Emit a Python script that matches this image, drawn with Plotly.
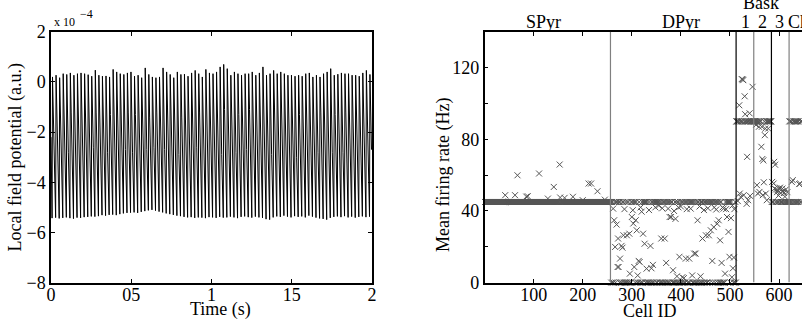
import plotly.graph_objects as go

W, H = 802, 324
FONT = "Liberation Serif, Times New Roman, Times, serif"

# ---------------- Local field potential (x 1e-4 a.u.) ----------------
lfp_cycles = 90            # gamma cycles in the 2 s window
lfp_duration = 2.0         # s
lfp_start = -2.2
lfp_peaks = [
    0.20, 0.27, 0.17, 0.33, 0.30, 0.36, 0.27, 0.33, 0.36, 0.33,
    0.29, 0.23, 0.47, 0.27, 0.23, 0.24, 0.20, 0.50, 0.40, 0.33,
    0.30, 0.36, 0.40, 0.23, 0.27, 0.17, 0.56, 0.30, 0.20, 0.17,
    0.20, 0.56, 0.40, 0.30, 0.17, 0.40, 0.30, 0.31, 0.23, 0.36,
    0.46, 0.33, 0.20, 0.50, 0.36, 0.33, 0.40, 0.60, 0.70, 0.53,
    0.27, 0.40, 0.33, 0.27, 0.33, 0.33, 0.40, 0.27, 0.36, 0.60,
    0.27, 0.33, 0.46, 0.33, 0.40, 0.33, 0.27, 0.27, 0.23, 0.27,
    0.23, 0.33, 0.36, 0.20, 0.27, 0.20, 0.33, 0.40, 0.53, 0.27,
    0.31, 0.36, 0.33, 0.33, 0.27, 0.27, 0.23, 0.36, 0.46, 0.30,
]
lfp_troughs = [
    -5.43, -5.41, -5.44, -5.42, -5.40, -5.43, -5.45, -5.41, -5.42, -5.39,
    -5.38, -5.36, -5.37, -5.35, -5.31, -5.33, -5.30, -5.29, -5.31, -5.27,
    -5.24, -5.22, -5.21, -5.20, -5.22, -5.18, -5.15, -5.12, -5.10, -5.13,
    -5.17, -5.20, -5.24, -5.27, -5.30, -5.33, -5.35, -5.38, -5.40, -5.39,
    -5.42, -5.40, -5.41, -5.43, -5.39, -5.40, -5.42, -5.38, -5.41, -5.40,
    -5.37, -5.40, -5.43, -5.38, -5.36, -5.39, -5.41, -5.37, -5.40, -5.42,
    -5.47, -5.49, -5.40, -5.36, -5.38, -5.33, -5.37, -5.40, -5.35, -5.38,
    -5.36, -5.40, -5.33, -5.37, -5.41, -5.44, -5.46, -5.49, -5.42, -5.38,
    -5.36, -5.39, -5.35, -5.40, -5.37, -5.41, -5.38, -5.36, -5.39, -5.37,
]
lfp_shoulders = [
    -1.3, -1.6, -1.1, -1.4, -1.9, -1.2, -1.5, -1.0, -1.7, -1.3,
    -1.4, -2.0, -1.2, -1.6, -1.1, -1.8, -1.3, -1.5, -1.0, -1.4,
    -1.7, -1.2, -2.1, -1.3, -1.5, -1.1, -1.6, -1.4, -1.9, -1.2,
    -1.3, -1.7, -1.0, -1.5, -1.3, -2.2, -1.4, -1.1, -1.6, -1.3,
    -1.8, -1.2, -1.5, -1.0, -1.4, -1.6, -1.3, -1.9, -1.1, -1.5,
    -1.2, -1.7, -1.3, -1.4, -2.0, -1.1, -1.5, -1.3, -1.6, -1.2,
    -1.4, -1.8, -1.0, -1.5, -1.3, -1.7, -1.2, -1.4, -2.1, -1.3,
    -1.6, -1.1, -1.5, -1.3, -1.8, -1.2, -1.4, -1.0, -1.6, -1.3,
    -1.5, -1.9, -1.2, -1.4, -1.1, -1.7, -1.3, -1.5, -1.2, -1.4,
]
lfp_dips = [
    -2.9, -2.6, -3.0, -2.7, -2.8, -3.1, -2.6, -2.9, -2.7, -3.0,
    -2.8, -2.6, -3.0, -2.7, -2.9, -2.8, -3.1, -2.6, -2.8, -2.9,
    -2.7, -3.0, -2.8, -2.6, -2.9, -3.0, -2.7, -2.8, -2.6, -3.0,
    -2.9, -2.7, -2.8, -3.1, -2.6, -2.9, -2.8, -3.0, -2.7, -2.8,
    -2.6, -3.0, -2.9, -2.7, -2.8, -3.1, -2.6, -2.9, -2.8, -2.7,
    -3.0, -2.8, -2.6, -2.9, -2.7, -3.0, -2.8, -2.9, -2.6, -3.1,
    -2.7, -2.9, -2.8, -3.0, -2.6, -2.8, -2.9, -2.7, -3.0, -2.8,
    -2.6, -2.9, -3.1, -2.7, -2.8, -3.0, -2.6, -2.9, -2.8, -2.7,
    -3.0, -2.8, -2.9, -2.6, -3.0, -2.7, -2.8, -3.1, -2.9, -2.7,
]

# ---------------- Mean firing rates per cell ----------------
spyr_ids = list(range(1, 257))
spyr_base_rate = 45.0
spyr_outlier_ids = [42, 62, 67, 85, 88, 111, 129, 141, 153, 154, 163, 180, 200, 212, 217, 230, 245]
spyr_outlier_rates = [48.8, 48.8, 59.9, 48.0, 48.2, 60.9, 46.9, 53.4, 65.9, 47.5, 47.3, 47.9, 46.0, 55.3, 55.3, 51.0, 46.3]

dpyr_ids = list(range(257, 513))
dpyr_band_rates = {"H": 45.0, "L": 0.0}
dpyr_band_code = "".join([
    "HLHHLHLL HHLHLHHL LHLHHLHL LHHLHLHL",
    "LHHLHLHH LLHLHHLH LHLLHHLH LHHLLHLH",
    "HLLHHLHL HHLHLLHH LHLHHLLH LHHLHLHL",
    "HHLHLLHH LHLHHLLH LHHLHLLH HLHLHHLL",
    "LHLHHLHL LHHLHLHH LHLLHHLH LHHLHLLH",
    "HLHLHHLL HLHHLHLH LLHHLHLH HLHLLHHL",
    "HHLLHLHH LHLHLHHL LHLHHLHL HLLHHLHL",
    "LHHLHLHL LHHLHLHH LHLHLLHH LHLHHLHL",
]).replace(" ", "")
dpyr_scatter_ids = [
    262, 264, 266, 269, 271, 272, 273, 276, 279, 281, 283, 285, 290, 295, 296,
    300, 302, 303, 305, 308, 310, 312, 314, 316, 318, 320, 323, 326, 330, 335,
    338, 340, 343, 348, 355, 360, 362, 367, 370, 374, 377, 380, 384, 386, 389,
    392, 395, 397, 400, 403, 406, 410, 412, 417, 420, 423, 427, 430, 434, 438,
    440, 444, 447, 451, 455, 457, 461, 464, 467, 468, 472, 474, 477, 480, 483,
    485, 487, 490, 492, 494, 497, 499, 502, 504, 505, 506, 508, 509,
]
dpyr_scatter_rates = [
    41.3, 34.8, 19.9, 32.4, 8.7, 24.6, 8.7, 13.4, 20.5, 19.5, 26.4, 41.0, 26.4, 27.3, 5.0,
    36.6, 40.4, 33.0, 8.7, 34.8, 29.2, 4.0, 12.1, 11.5, 42.0, 39.6, 27.3, 21.7, 7.8, 40.5,
    20.5, 8.0, 9.9, 42.0, 43.0, 24.6, 41.5, 24.6, 11.0, 41.3, 36.6, 36.6, 6.9, 40.0, 35.6,
    3.5, 42.0, 14.4, 42.5, 3.0, 2.5, 13.4, 41.0, 13.4, 41.3, 4.0, 16.2, 16.2, 34.8, 42.5,
    3.5, 24.6, 40.5, 26.4, 41.5, 26.4, 29.2, 12.1, 31.0, 42.0, 40.8, 32.8, 34.8, 23.6, 11.0,
    42.0, 41.3, 5.0, 41.0, 36.6, 28.3, 14.4, 36.0, 3.0, 43.0, 8.0, 14.0, 41.0,
]

bask1_ids = list(range(513, 549))
bask1_rates = [
    90, 90, 90, 45.5, 90, 90, 99.0, 49.7, 90, 47.8, 90, 113.6,
    90, 113.4, 113.0, 48.8, 90, 104.0, 94.0, 90, 90, 44.0, 70.2, 90,
    46.0, 90, 90, 94.5, 48.4, 90, 90, 90, 90, 109.3, 90, 90,
]
bask2_ids = list(range(549, 585))
bask2_rates = [
    90, 90, 90, 90, 88.0, 90, 54.4, 90, 49.7, 90, 87.0, 50.6,
    90, 90, 90, 75.8, 87.0, 69.0, 48.8, 68.2, 56.0, 90, 82.3, 86.0,
    49.7, 90, 46.0, 90, 90, 86.0, 90, 90, 90, 90, 90, 90,
]
bask3_ids = list(range(585, 621))
bask3_rates = [
    45, 56.2, 45, 45, 55.3, 67.4, 52.5, 65.8, 45, 52.0, 45, 50.5,
    51.6, 45, 48.6, 52.5, 45, 53.0, 50.0, 45, 52.0, 45, 52.5, 51.0,
    45, 50.0, 45, 48.0, 45, 52.0, 45, 45, 50.5, 45, 45, 45,
]
ch_ids = list(range(621, 657))
ch_rates = [
    90, 45, 90, 45, 90, 56.2, 45, 57.2, 90, 45, 90, 45,
    90, 90, 45, 90, 45, 90, 45, 90, 55.0, 45, 55.3, 90,
    45, 90, 45, 90, 45, 90, 45, 90, 45, 90, 45, 90,
]

group_edges = [256.5, 512.5, 548.5, 584.5, 620.5]
group_edge_colors = ["rgb(128,128,128)", "black", "rgb(128,128,128)", "black", "rgb(128,128,128)"]

# ---------------- assemble series ----------------
T = lfp_duration / lfp_cycles
lfp_t = [0.0]
lfp_v = [lfp_start]
for k in range(lfp_cycles):
    lfp_t += [(k + 0.30) * T, (k + 0.42) * T, (k + 0.66) * T, (k + 0.86) * T]
    lfp_v += [lfp_troughs[k], lfp_peaks[k], lfp_shoulders[k], lfp_dips[k]]

spyr_rates = [spyr_base_rate] * len(spyr_ids)
for cid, r in zip(spyr_outlier_ids, spyr_outlier_rates):
    spyr_rates[cid - spyr_ids[0]] = r

dpyr_rates = [dpyr_band_rates[c] for c in dpyr_band_code]
for cid, r in zip(dpyr_scatter_ids, dpyr_scatter_rates):
    dpyr_rates[cid - dpyr_ids[0]] = r

cell_ids = spyr_ids + dpyr_ids + bask1_ids + bask2_ids + bask3_ids + ch_ids
cell_rates = spyr_rates + dpyr_rates + bask1_rates + bask2_rates + bask3_rates + ch_rates

# ---------------- figure ----------------
def px(x):
    return x / W


def py(y):
    return 1 - y / H


fig = go.Figure()

fig.add_trace(go.Scatter(
    x=lfp_t, y=lfp_v, mode="lines",
    line=dict(color="black", width=1),
    xaxis="x", yaxis="y", showlegend=False, hoverinfo="skip",
))

fig.add_trace(go.Scatter(
    x=cell_ids, y=cell_rates, mode="markers",
    marker=dict(symbol="x-thin", size=6, color="rgb(85,85,85)",
                line=dict(color="rgb(85,85,85)", width=1)),
    xaxis="x2", yaxis="y2", showlegend=False, cliponaxis=False, hoverinfo="skip",
))

for xe, col in zip(group_edges, group_edge_colors):
    fig.add_shape(type="line", xref="x2", yref="y2", x0=xe, x1=xe, y0=0, y1=140,
                  line=dict(color=col, width=1.2), layer="above")

tickfont = dict(family=FONT, size=18, color="black")
axis_common = dict(showline=True, linecolor="black", linewidth=1.5, ticks="inside",
                   ticklen=4, tickcolor="black", tickwidth=1, showgrid=False,
                   zeroline=False, tickfont=tickfont, fixedrange=True, automargin=False)

y_bottom, y_top = py(282.6), py(31.8)

fig.update_layout(
    width=W, height=H,
    margin=dict(l=0, r=0, t=0, b=0, pad=0),
    paper_bgcolor="white", plot_bgcolor="white",
    xaxis=dict(domain=[px(51), px(372)], range=[0, 2], tickmode="array",
               tickvals=[0, 0.5, 1, 1.5, 2], ticktext=["0", "05", "1", "15", "2"],
               mirror="ticks", anchor="y", ticklabelstandoff=-5, **axis_common),
    yaxis=dict(domain=[y_bottom, y_top], range=[-8, 2], tickmode="array",
               tickvals=[-8, -6, -4, -2, 0, 2],
               ticktext=["\u22128", "\u22126", "\u22124", "\u22122", "0", "2"],
               mirror="ticks", anchor="x", **axis_common),
    xaxis2=dict(domain=[px(484.6), 1.0], range=[0, 646.8], tickmode="array",
                tickvals=[100, 200, 300, 400, 500, 600],
                ticktext=["100", "200", "300", "400", "500", "600"],
                mirror="ticks", anchor="y2", ticklabelstandoff=-5, **axis_common),
    yaxis2=dict(domain=[y_bottom, y_top], range=[0, 140], tickmode="array",
                tickvals=[0, 20, 40, 60, 80, 100, 120, 140],
                ticktext=["0", "", "40", "", "80", "", "120", ""],
                mirror=False, anchor="x2", **axis_common),
)

lab = dict(family=FONT, size=18, color="black")
small = dict(family=FONT, size=12, color="black")
annotations = [
    dict(x=px(220), y=py(309), text="Time (s)", font=lab),
    dict(x=px(15.5), y=py(158), text="Local field potential (a.u.)", font=lab, textangle=-90),
    dict(x=px(52), y=py(22), text="x 10", font=small, xanchor="left"),
    dict(x=px(78), y=py(14), text="\u22124", font=small, xanchor="left"),
    dict(x=px(650), y=py(311), text="Cell ID", font=lab),
    dict(x=px(443), y=py(175), text="Mean firing rate (Hz)", font=lab, textangle=-90),
    dict(x=px(543), y=py(22), text="SPyr", font=lab),
    dict(x=px(681), y=py(22), text="DPyr", font=lab),
    dict(x=px(761), y=py(3), text="Bask", font=lab),
    dict(x=px(745), y=py(22), text="1", font=lab),
    dict(x=px(762), y=py(22), text="2", font=lab),
    dict(x=px(779), y=py(22), text="3", font=lab),
    dict(x=px(786), y=py(22), text="Ch", font=lab, xanchor="left"),
]
for a in annotations:
    a.setdefault("xanchor", "center")
    a.update(xref="paper", yref="paper", showarrow=False, yanchor="middle")
    fig.add_annotation(**a)

fig.write_html("out.html", config={"displayModeBar": False})
